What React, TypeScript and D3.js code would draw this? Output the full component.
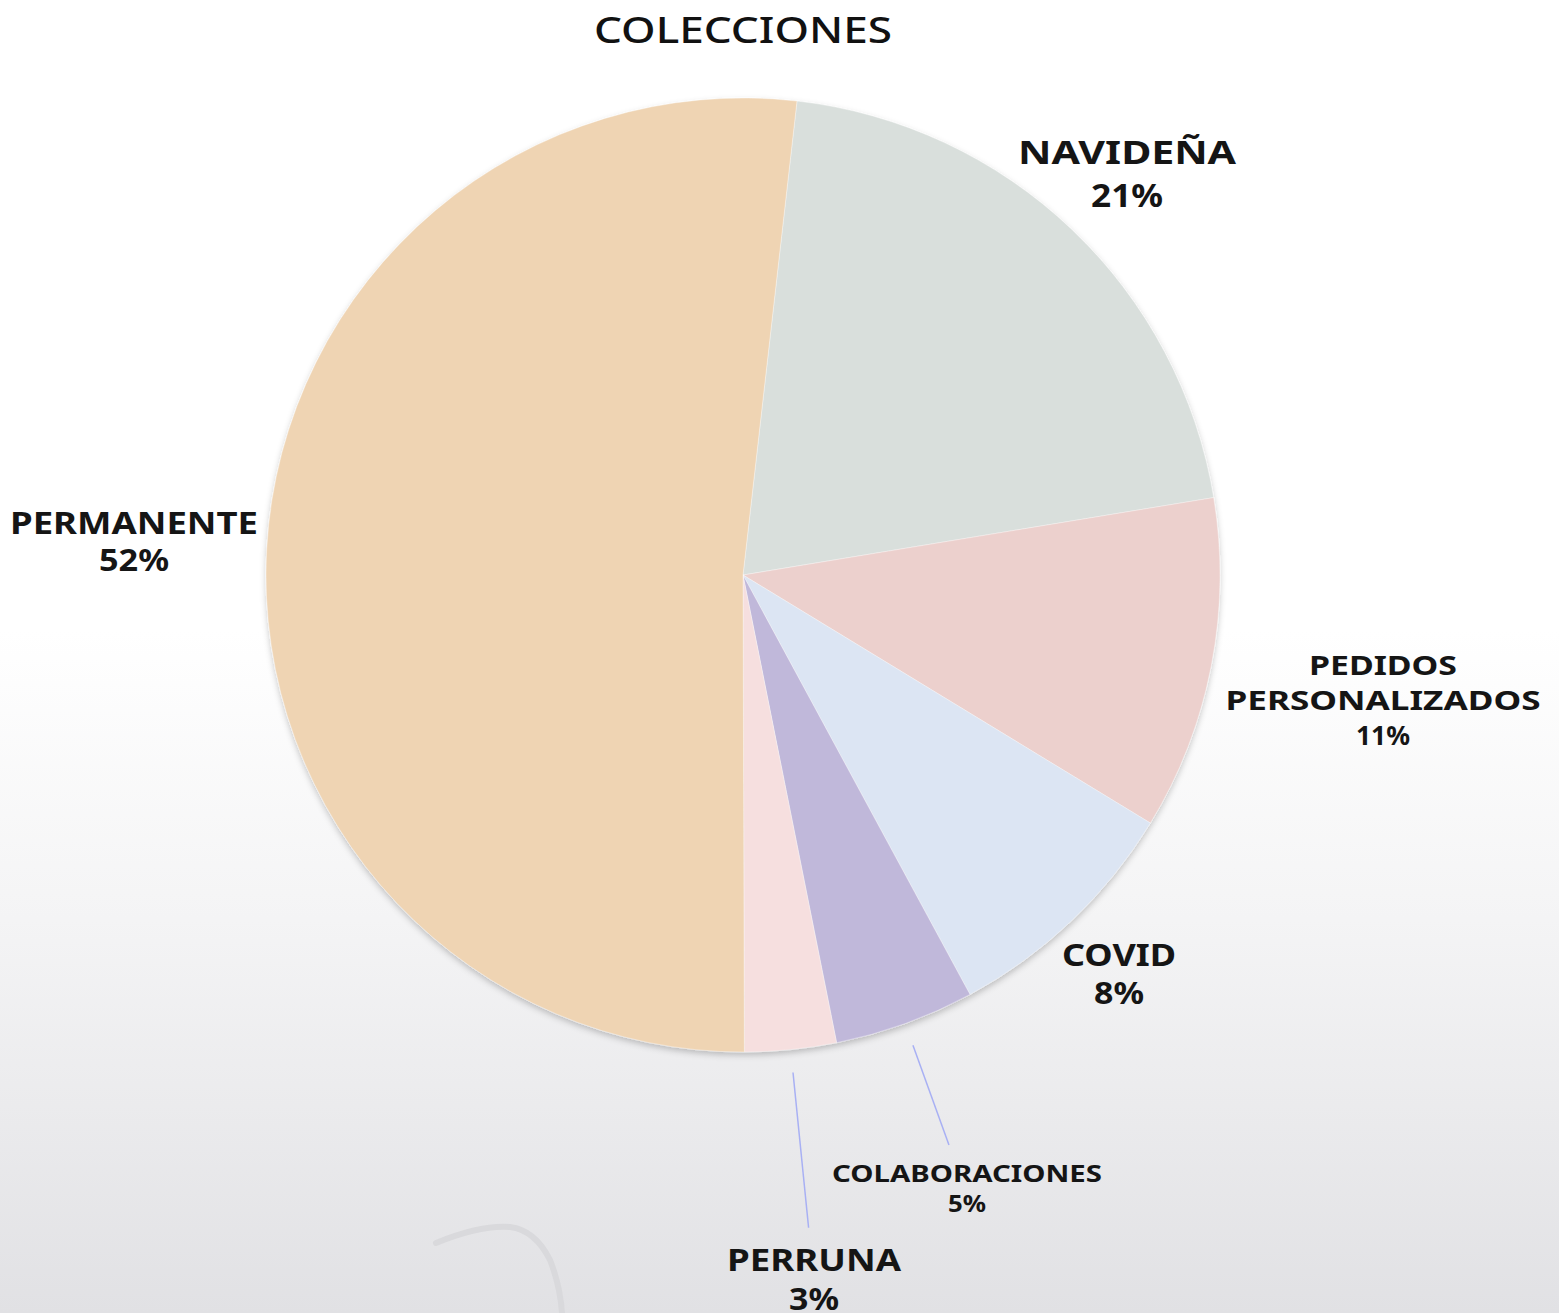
import React from "react";
import * as d3 from "d3";

const categories = ["NAVIDEÑA", "PEDIDOS PERSONALIZADOS", "COVID", "COLABORACIONES", "PERRUNA", "PERMANENTE"];
const values = [20.6, 11.3, 8.4, 4.75, 3.1, 51.85];
const percentLabels = ["21%", "11%", "8%", "5%", "3%", "52%"];
const colors = ["#D9DFDC", "#ECD0CD", "#DCE5F3", "#C0B8DA", "#F6DFDF", "#EFD4B3"];
const title = "COLECCIONES";

const W = 1559;
const H = 1313;
const cx = 743;
const cy = 575;
const R = 477;

type LabelLayout = { x: number; y: number; gap: number; size: number; lines: string[]; widths: number[] };
const labelLayout: Record<string, LabelLayout> = {
  "NAVIDEÑA": { x: 1127, y: 164, gap: 43, size: 33, lines: ["NAVIDEÑA"], widths: [218, 72] },
  "PEDIDOS PERSONALIZADOS": { x: 1383, y: 675, gap: 35, size: 27, lines: ["PEDIDOS", "PERSONALIZADOS"], widths: [148, 315, 54] },
  "COVID": { x: 1119, y: 966, gap: 38, size: 31, lines: ["COVID"], widths: [114, 50] },
  "COLABORACIONES": { x: 967, y: 1182, gap: 30, size: 23, lines: ["COLABORACIONES"], widths: [270, 38] },
  "PERRUNA": { x: 814, y: 1271, gap: 39, size: 31, lines: ["PERRUNA"], widths: [174, 50] },
  "PERMANENTE": { x: 134, y: 534, gap: 37, size: 30, lines: ["PERMANENTE"], widths: [248, 70] },
};
const leaderCats = ["COLABORACIONES", "PERRUNA"];
const leaderOuter: Record<string, number> = { COLABORACIONES: 606, PERRUNA: 656 };

export default function App() {
  const start = (6.5 * Math.PI) / 180;
  const pie = d3.pie<number>().sort(null).value((d) => d).startAngle(start).endAngle(start + 2 * Math.PI);
  const arcs = pie(values);
  const arcGen = d3.arc<d3.PieArcDatum<number>>().innerRadius(0).outerRadius(R);
  const font = "'Noto Sans', 'DejaVu Sans', sans-serif";

  return (
    <svg width={W} height={H} style={{ position: "absolute", left: 0, top: 0, display: "block" }}>
      <defs>
        <linearGradient id="bg" x1="0" y1="0" x2="0" y2="1">
          <stop offset="0" stopColor="#FFFFFF" />
          <stop offset="0.48" stopColor="#FFFFFF" />
          <stop offset="0.7" stopColor="#F4F4F5" />
          <stop offset="1" stopColor="#E1E1E4" />
        </linearGradient>
        <filter id="shadow" x="-10%" y="-10%" width="120%" height="120%">
          <feDropShadow dx="0" dy="3" stdDeviation="3" floodColor="#000" floodOpacity="0.22" />
        </filter>
      </defs>
      <rect x={0} y={0} width={W} height={H} fill="url(#bg)" />
      <path d="M 436 1243 Q 480 1225 510 1227 Q 535 1230 550 1260 Q 560 1285 562 1313" fill="none" stroke="#D9D9DC" strokeWidth={6} strokeLinecap="round" />
      <text x={743} y={43} textAnchor="middle" fontFamily={font} fontWeight={500} fontSize={37} fill="#111" textLength={298} lengthAdjust="spacingAndGlyphs">
        {title}
      </text>
      <g transform={`translate(${cx},${cy})`}>
        <g filter="url(#shadow)">
          {arcs.map((a, i) => (
            <path key={i} d={arcGen(a) || ""} fill={colors[i]} stroke="#FFFFFF" strokeOpacity={0.35} strokeWidth={1} />
          ))}
        </g>
        {arcs.map((a, i) => {
          const c = categories[i];
          if (!leaderCats.includes(c)) return null;
          const mid = (a.startAngle + a.endAngle) / 2;
          const r0 = R + 23;
          const r1 = leaderOuter[c];
          return (
            <line key={"l" + i} x1={r0 * Math.sin(mid)} y1={-r0 * Math.cos(mid)} x2={r1 * Math.sin(mid)} y2={-r1 * Math.cos(mid)} stroke="#A8B0F4" strokeWidth={1.5} />
          );
        })}
      </g>
      {categories.map((c, i) => {
        const L = labelLayout[c];
        const all = [...L.lines, percentLabels[i]];
        return (
          <g key={"t" + i}>
            {all.map((s, j) => (
              <text key={j} x={L.x} y={L.y + j * L.gap} textAnchor="middle" fontFamily={font} fontWeight={700} fontSize={L.size} fill="#151515" textLength={L.widths[j]} lengthAdjust="spacingAndGlyphs">
                {s}
              </text>
            ))}
          </g>
        );
      })}
    </svg>
  );
}
